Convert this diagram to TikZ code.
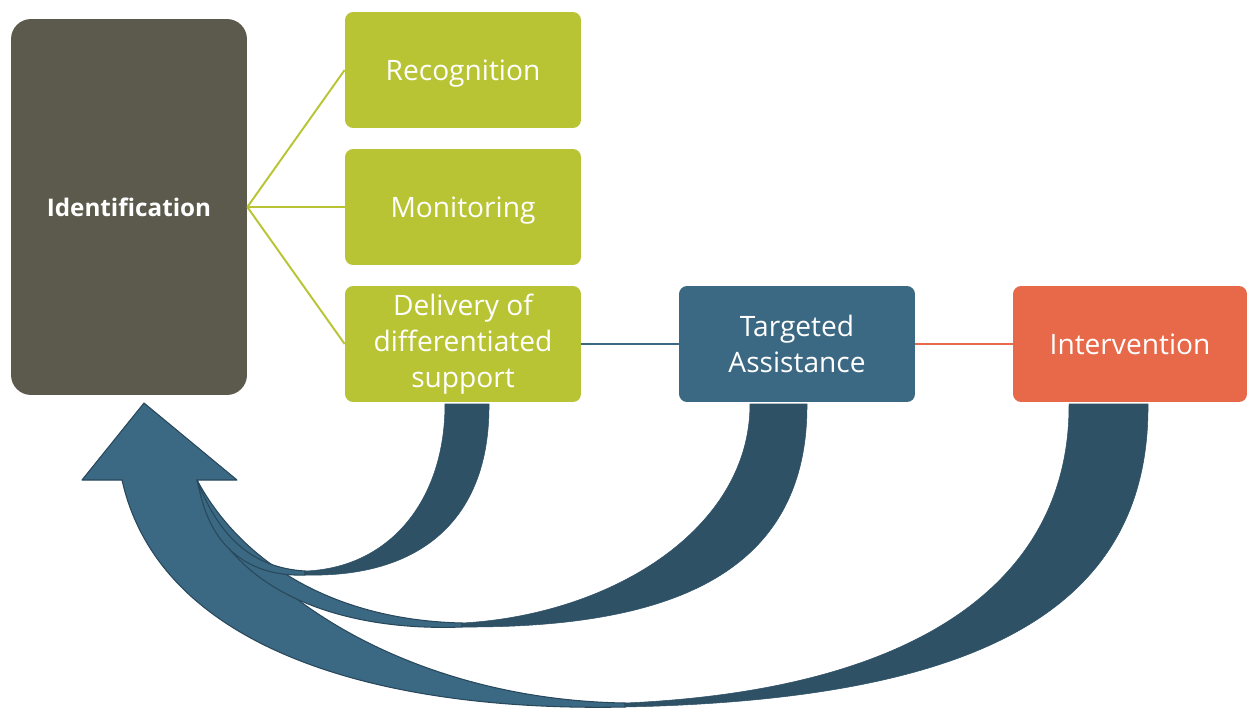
\documentclass[tikz,border=0pt]{standalone}
\usepackage{fontspec}
\setmainfont{Open Sans}

\definecolor{idgray}{HTML}{5B5A4C}
\definecolor{leafgreen}{HTML}{B8C433}
\definecolor{steelblue}{HTML}{3B6882}
\definecolor{deepblue}{HTML}{2E5166}
\definecolor{edgeblue}{HTML}{28485C}
\definecolor{coral}{HTML}{E8694A}

\begin{document}
\begin{tikzpicture}[x=0.02cm,y=-0.02cm]
\tikzstyle{box} = [rectangle, rounded corners=0.16cm, text=white, align=center, minimum width=4.72cm, minimum height=2.32cm, inner sep=0pt, font=\fontsize{16}{20.5}\selectfont]
\tikzstyle{greenbox} = [box, fill=leafgreen]
\tikzstyle{link} = [line width=1.1pt]
\tikzstyle{front} = [fill=steelblue, draw=edgeblue, line width=0.6pt, line join=round]
\tikzstyle{back} = [fill=deepblue, draw=deepblue, line width=0.3pt]

\useasboundingbox (0,0) rectangle (1247,707);

% boxes
\node (ident) [box, fill=idgray, rounded corners=0.4cm, minimum height=7.52cm, font=\fontsize{13.8}{16}\selectfont\bfseries] at (129,207) {Identification};
\node (recog) [greenbox, text depth=0pt] at (463,70) {Recognition};
\node (monit) [greenbox, text depth=0pt] at (463,207) {Monitoring};
\node (deliv) [greenbox] at (463,344) {Delivery of\\differentiated\\support};
\node (target) [box, fill=steelblue] at (797,344) {Targeted\\Assistance};
\node (interv) [box, fill=coral, minimum width=4.68cm] at (1130,344) {Intervention};

% links between the boxes
\draw [link, leafgreen] (ident.east) -- (recog.west);
\draw [link, leafgreen] (ident.east) -- (monit.west);
\draw [link, leafgreen] (ident.east) -- (deliv.west);
\draw [link, steelblue] (deliv.east) -- (target.west);
\draw [link, coral] (target.east) -- (interv.west);

% curved arrow back from Intervention (carries the head)
\draw [back] (625,707) .. controls (960,700) and (1150,620) .. (1148,404)
  -- (1069,404) .. controls (1070,580) and (920,690) .. (625,703) -- cycle;
\draw [front] (122,480) -- (82,480) -- (144,403) -- (237,480) -- (197,480)
  .. controls (250,600) and (420,700) .. (625,703) -- (625,707)
  .. controls (380,712) and (160,650) .. (122,480) -- cycle;

% curved arrow back from Targeted Assistance
\draw [back] (462,627) .. controls (660,628) and (808,580) .. (807,404)
  -- (750,404) .. controls (750,530) and (610,615) .. (462,623) -- cycle;
\draw [front] (197,480) .. controls (240,560) and (330,620) .. (462,623)
  -- (462,627) .. controls (330,632) and (225,585) .. (200,492) -- cycle;

% curved arrow back from Delivery of differentiated support
\draw [back] (305,575) .. controls (420,578) and (490,520) .. (489,404)
  -- (445,404) .. controls (445,500) and (390,568) .. (305,571) -- cycle;
\draw [front] (197,480) .. controls (220,540) and (255,568) .. (305,571)
  -- (305,575) .. controls (250,577) and (212,548) .. (200,492) -- cycle;
\end{tikzpicture}
\end{document}
